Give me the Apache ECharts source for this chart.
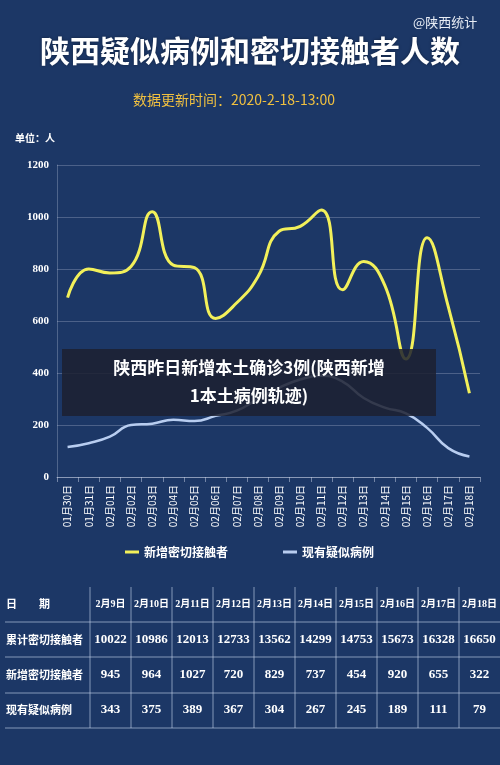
<!DOCTYPE html>
<html><head><meta charset="utf-8">
<script src="https://cdn.jsdelivr.net/npm/echarts@6/dist/echarts.min.js"></script>
<style>html,body{margin:0;padding:0;background:#1c3766;}#c{width:500px;height:765px;}</style>
</head><body><div id="c"></div>
<script>
const categories = ['01月30日','01月31日','02月01日','02月02日','02月03日','02月04日','02月05日','02月06日','02月07日','02月08日','02月09日','02月10日','02月11日','02月12日','02月13日','02月14日','02月15日','02月16日','02月17日','02月18日'];
const newContacts = [690,800,785,810,1020,815,805,610,670,770,945,964,1027,720,829,737,454,920,655,322];
const suspected = [115,130,155,200,205,220,215,235,255,300,343,375,389,367,304,267,245,189,111,79];
const tableDates = ['2月9日','2月10日','2月11日','2月12日','2月13日','2月14日','2月15日','2月16日','2月17日','2月18日'];
const tableCumulative = [10022,10986,12013,12733,13562,14299,14753,15673,16328,16650];
const tableNew = [945,964,1027,720,829,737,454,920,655,322];
const tableSuspected = [343,375,389,367,304,267,245,189,111,79];
const rowLabels = ['日　　期','累计密切接触者','新增密切接触者','现有疑似病例'];

const F = '"Noto Sans CJK SC","Noto Sans",sans-serif';
const SERIF = '"Liberation Serif","DejaVu Serif","Noto Sans CJK SC",serif';
const g = [];
g.push({type:'text',left:413,top:16,style:{text:'@陕西统计',fill:'#e8edf5',font:'13px '+F}});
g.push({type:'text',left:'center',top:36,style:{text:'陕西疑似病例和密切接触者人数',fill:'#ffffff',font:'bold 30px '+F,textShadowColor:'rgba(0,0,0,0.4)',textShadowBlur:3}});
g.push({type:'text',left:133,top:93,style:{text:'数据更新时间：2020-2-18-13:00',fill:'#f0c040',font:'14px '+F}});
g.push({type:'text',left:15,top:133,style:{text:'单位：人',fill:'#ffffff',font:'bold 10px '+F}});
g.push({type:'rect',z:100,shape:{x:62,y:349,width:374,height:67},style:{fill:'rgba(28,32,48,0.85)'}});
g.push({type:'text',z:101,x:249,y:368,style:{text:'陕西昨日新增本土确诊3例(陕西新增',fill:'#fff',font:'bold 17px '+F,align:'center',verticalAlign:'middle'}});
g.push({type:'text',z:101,x:249,y:396,style:{text:'1本土病例轨迹)',fill:'#fff',font:'bold 17px '+F,align:'center',verticalAlign:'middle'}});
const lineC = 'rgba(190,205,230,0.65)';
const hy = [587,622,657,693,728];
const rowsY = [604,640,675,710];
for (let i=1;i<hy.length;i++) g.push({type:'line',shape:{x1:5,y1:hy[i],x2:500,y2:hy[i]},style:{stroke:lineC,lineWidth:1}});
const colX = [];
for (let i=0;i<=10;i++) colX.push(90+i*41);
for (let i=0;i<10;i++) g.push({type:'line',shape:{x1:colX[i],y1:hy[0],x2:colX[i],y2:hy[4]},style:{stroke:lineC,lineWidth:1}});
rowLabels.forEach((t,r)=>g.push({type:'text',x:6,y:rowsY[r],style:{text:t,fill:'#fff',font:'bold 11px '+F,verticalAlign:'middle'}}));
const rows=[tableDates,tableCumulative,tableNew,tableSuspected];
rows.forEach((arr,r)=>arr.forEach((v,i)=>g.push({type:'text',x:colX[i]+20.5,y:rowsY[r],style:{text:String(v),fill:'#fff',font:(r===0?'bold 10px ':'bold 13px ')+SERIF,align:'center',verticalAlign:'middle'}})));

const chart = echarts.init(document.getElementById('c'));
chart.setOption({
  backgroundColor:'#1c3766',
  animation:false,
  graphic:g,
  grid:{left:57,right:20,top:165,bottom:288},
  legend:{bottom:202,left:120,itemGap:55,itemWidth:14,itemHeight:3,icon:'rect',textStyle:{color:'#fff',fontWeight:'bold',fontSize:12,fontFamily:F},data:['新增密切接触者','现有疑似病例']},
  xAxis:{type:'category',data:categories,boundaryGap:true,
    axisLine:{lineStyle:{color:'rgba(200,210,230,0.5)'}},axisTick:{show:true,lineStyle:{color:'rgba(200,210,230,0.5)'}},
    axisLabel:{rotate:90,color:'#fff',fontSize:10,fontFamily:F,interval:0}},
  yAxis:{type:'value',min:0,max:1200,interval:200,
    axisLine:{show:true,lineStyle:{color:'rgba(200,210,230,0.3)'}},
    splitLine:{lineStyle:{color:'rgba(200,210,230,0.28)'}},
    axisLabel:{color:'#fff',fontWeight:'bold',fontSize:11,fontFamily:SERIF,formatter:v=>String(v)}},
  series:[
    {name:'新增密切接触者',type:'line',smooth:0.5,data:newContacts,showSymbol:false,lineStyle:{color:'#f2f05a',width:3},itemStyle:{color:'#f2f05a'}},
    {name:'现有疑似病例',type:'line',smooth:0.5,data:suspected,showSymbol:false,lineStyle:{color:'#b8cdf0',width:2.5},itemStyle:{color:'#b8cdf0'}}
  ]
});
</script></body></html>
